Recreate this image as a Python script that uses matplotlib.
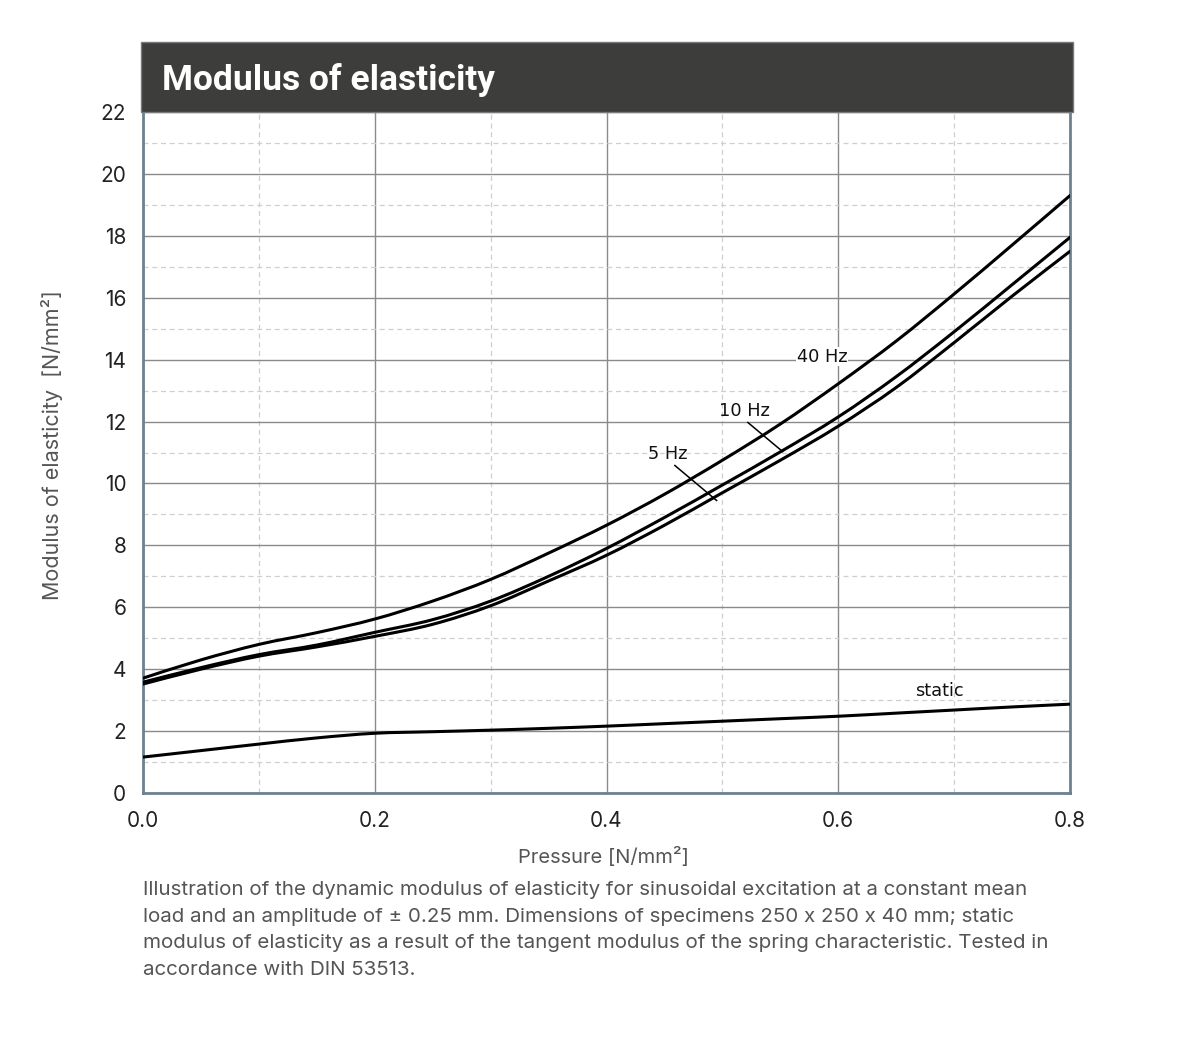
import matplotlib
matplotlib.use("Agg")
import matplotlib.pyplot as plt
from matplotlib.patches import Rectangle, PathPatch
from matplotlib.path import Path
from matplotlib.ticker import MultipleLocator

# ---------------- data ----------------
pressure = [0.0, 0.05, 0.10, 0.15, 0.20, 0.25, 0.30, 0.35, 0.40,
            0.45, 0.50, 0.55, 0.60, 0.65, 0.70, 0.75, 0.80]
e_40hz = [3.71, 4.30, 4.80, 5.18, 5.62, 6.20, 6.90, 7.75, 8.65,
          9.65, 10.75, 11.92, 13.22, 14.60, 16.12, 17.70, 19.30]
e_10hz = [3.58, 4.05, 4.47, 4.78, 5.19, 5.60, 6.20, 7.00, 7.90,
          8.90, 9.95, 11.02, 12.15, 13.45, 14.90, 16.42, 17.95]
e_5hz = [3.52, 4.00, 4.42, 4.72, 5.06, 5.45, 6.05, 6.85, 7.68,
         8.65, 9.70, 10.75, 11.85, 13.10, 14.55, 16.05, 17.50]
e_static = [1.16, 1.37, 1.58, 1.78, 1.93, 1.98, 2.03, 2.09, 2.16,
            2.24, 2.32, 2.40, 2.48, 2.58, 2.68, 2.78, 2.87]

x_ticks = [0.0, 0.2, 0.4, 0.6, 0.8]
x_tick_labels = ["0.0", "0.2", "0.4", "0.6", "0.8"]
y_ticks = [0, 2, 4, 6, 8, 10, 12, 14, 16, 18, 20, 22]

title = "Modulus of elasticity"
x_label = "Pressure [N/mm²]"
y_label = "Modulus of elasticity  [N/mm²]"
caption = ("Illustration of the dynamic modulus of elasticity for sinusoidal excitation at a constant mean\n"
           "load and an amplitude of ± 0.25 mm. Dimensions of specimens 250 x 250 x 40 mm; static\n"
           "modulus of elasticity as a result of the tangent modulus of the spring characteristic. Tested in\n"
           "accordance with DIN 53513.")

# ---------------- figure ----------------
W, H = 1201, 1051
fig = plt.figure(figsize=(W / 100, H / 100), dpi=100)

def fx(px):
    return px / W

def fy(py):
    return 1 - py / H

ax_l, ax_r, ax_t, ax_b = 143, 1070, 112, 793
ax = fig.add_axes([fx(ax_l), fy(ax_b), fx(ax_r - ax_l), (ax_b - ax_t) / H])

ax.set_xlim(0, 0.8)
ax.set_ylim(0, 22)

ax.xaxis.set_minor_locator(MultipleLocator(0.1))
ax.yaxis.set_minor_locator(MultipleLocator(1))
ax.set_xticks(x_ticks)
ax.set_xticklabels(x_tick_labels)
ax.set_yticks(y_ticks)

ax.grid(which="major", color="#8a8a8a", lw=1.0, ls="-")
ax.grid(which="minor", color="#cfcfcf", lw=0.9, ls=(0, (4, 3)))
ax.set_axisbelow(True)

ax.tick_params(which="both", length=0)
ax.tick_params(axis="x", pad=13, labelsize=15, labelcolor="#222222")
ax.tick_params(axis="y", pad=12, labelsize=15, labelcolor="#222222")
for lab in ax.get_xticklabels() + ax.get_yticklabels():
    lab.set_fontfamily("Inter")

spine_c = "#6e8190"
for s in ["left", "bottom", "right"]:
    ax.spines[s].set_color(spine_c)
    ax.spines[s].set_linewidth(2.0)
ax.spines["top"].set_visible(False)


def smooth_curve(xs, ys, **kw):
    """Draw a smooth (Catmull-Rom as cubic Bezier) path through the read points."""
    n = len(xs)
    verts = [(xs[0], ys[0])]
    codes = [Path.MOVETO]
    for i in range(n - 1):
        x0, y0 = (xs[i - 1], ys[i - 1]) if i > 0 else (xs[i], ys[i])
        x1, y1 = xs[i], ys[i]
        x2, y2 = xs[i + 1], ys[i + 1]
        x3, y3 = (xs[i + 2], ys[i + 2]) if i + 2 < n else (x2, y2)
        c1 = (x1 + (x2 - x0) / 6.0, y1 + (y2 - y0) / 6.0)
        c2 = (x2 - (x3 - x1) / 6.0, y2 - (y3 - y1) / 6.0)
        verts += [c1, c2, (x2, y2)]
        codes += [Path.CURVE4] * 3
    patch = PathPatch(Path(verts, codes), facecolor="none", transform=ax.transData, **kw)
    ax.add_patch(patch)


lw = 2.2
for series in (e_40hz, e_10hz, e_5hz, e_static):
    smooth_curve(pressure, series, edgecolor="black", lw=lw, capstyle="round",
                 joinstyle="round", zorder=3)

lab_kw = dict(fontsize=12.8, family="DejaVu Sans", color="#111111", zorder=5)
ax.text(0.586, 14.1, "40 Hz", ha="center", va="center",
        bbox=dict(facecolor="white", edgecolor="none", pad=0.5), **lab_kw)
ax.text(0.519, 12.35, "10 Hz", ha="center", va="center", **lab_kw)
ax.text(0.453, 10.95, "5 Hz", ha="center", va="center", **lab_kw)
ax.text(0.687, 3.3, "static", ha="center", va="center", **lab_kw)
ax.plot([0.522, 0.552], [11.97, 11.03], color="black", lw=1.1, zorder=4)
ax.plot([0.459, 0.495], [10.58, 9.45], color="black", lw=1.1, zorder=4)

# title bar
bar = Rectangle((fx(141), fy(112)), fx(1073 - 141), (112 - 42) / H,
                transform=fig.transFigure, facecolor="#3d3d3b",
                edgecolor="#7a7a7a", lw=1.0, zorder=10)
fig.patches.append(bar)
fig.text(fx(162), fy(80), title, color="white", fontsize=25.5,
         fontweight="bold", family="Roboto", ha="left", va="center", zorder=11)

# axis labels
fig.text(fx(604), fy(857), x_label, ha="center", va="center",
         fontsize=14.5, family="Inter", color="#555555")
fig.text(fx(52), fy(445), y_label, ha="center", va="center", rotation=90,
         fontsize=15.5, family="Inter", color="#555555")

# caption
fig.text(fx(143), fy(881), caption, ha="left", va="top", fontsize=14.8,
         family="Inter", color="#555555", linespacing=1.62)

fig.savefig("out.png", dpi=100, facecolor="white")
